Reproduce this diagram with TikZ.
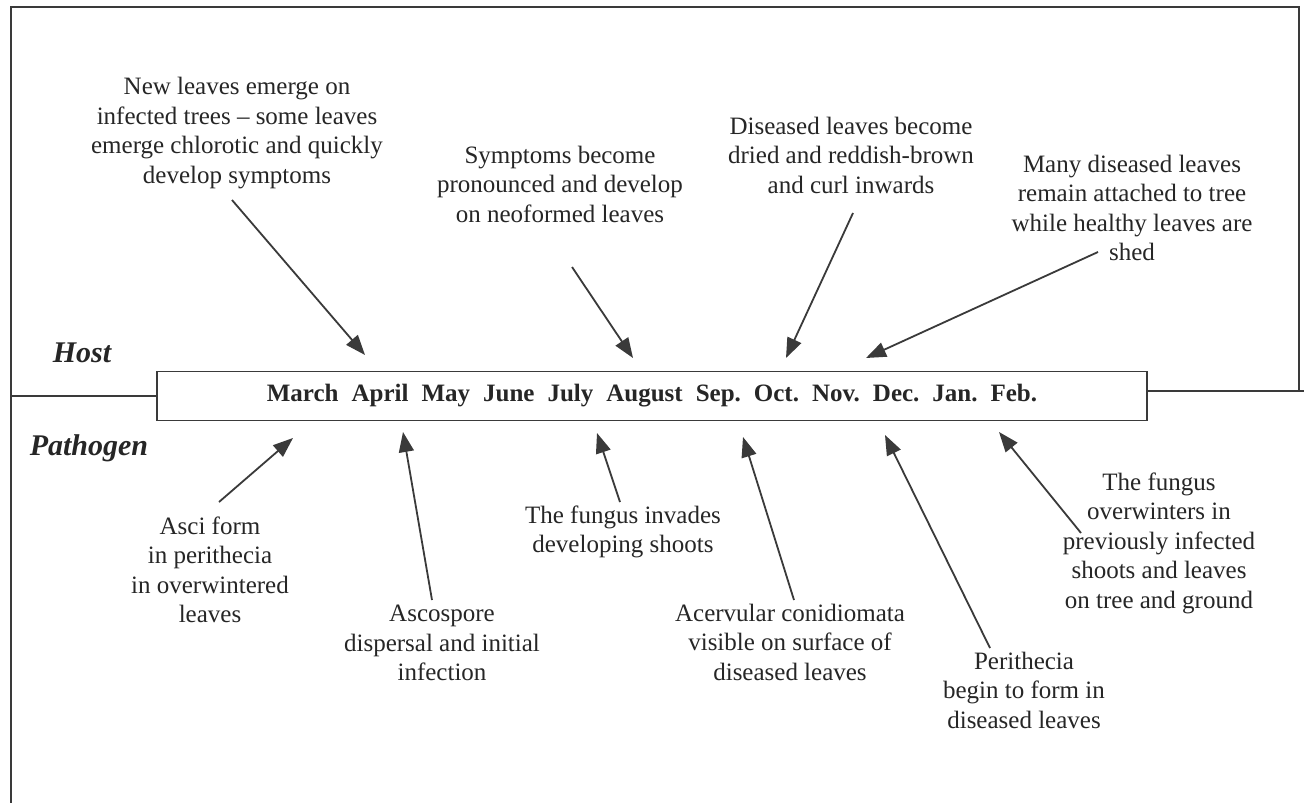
\documentclass[tikz,border=0pt]{standalone}
\usepackage{fontspec}
\setmainfont{Liberation Serif}
\usetikzlibrary{arrows.meta}
\definecolor{ink}{HTML}{262626}
\definecolor{linec}{HTML}{3A3A3A}
\tikzset{
  lbl/.style={align=center, inner sep=0pt, text=ink, font=\fontsize{25}{29.5}\selectfont},
  arr/.style={draw=linec, line width=1.8pt, -{Triangle[length=20pt,width=15pt]}},
  framel/.style={draw=linec, line width=1.6pt},
  side/.style={inner sep=0pt, text=ink, font=\fontsize{30}{34}\selectfont\bfseries\itshape},
  monthbox/.style={draw=linec, line width=1.6pt, minimum width=990pt, minimum height=49pt, inner sep=0pt, text=ink, font=\fontsize{25}{29.5}\selectfont\bfseries}
}
\newcommand{\mgap}{\hspace{13pt}}
\begin{document}
\begin{tikzpicture}[x=1pt,y=-1pt]
\useasboundingbox[fill=white] (0,0) rectangle (1304,803);
% frame
\coordinate (fbl) at (11,803);
\coordinate (ftl) at (11,7);
\coordinate (ftr) at (1299,7);
\coordinate (fbr) at (1299,391);
\coordinate (rl) at (1304,391);
\coordinate (ll) at (11,396);
\draw[framel] (fbl) -- (ftl) -- (ftr) -- (fbr);
% month box
\node[monthbox] (box) at (652,396) {March\mgap April\mgap May\mgap June\mgap July\mgap August\mgap Sep.\mgap Oct.\mgap Nov.\mgap Dec.\mgap Jan.\mgap Feb.};
\draw[framel] (ll) -- (box.west);
\draw[framel] (box.east |- rl) -- (rl);
% side labels
\node[side] (host) at (82,353) {Host};
\node[side] (path) at (89,448) {Pathogen};
% host texts
\node[lbl] (a) at (237,133) {New leaves emerge on\\infected trees -- some leaves\\emerge chlorotic and quickly\\develop symptoms};
\node[lbl] (b) at (560,184) {Symptoms become\\pronounced and develop\\on neoformed leaves};
\node[lbl] (c) at (851,155) {Diseased leaves become\\dried and reddish-brown\\and curl inwards};
\node[lbl] (d) at (1132,208) {Many diseased leaves\\remain attached to tree\\while healthy leaves are\\shed};
% pathogen texts
\node[lbl] (e) at (210,570) {Asci form\\in perithecia\\in overwintered\\leaves};
\node[lbl] (f) at (442,643) {Ascospore\\dispersal and initial\\infection};
\node[lbl] (g) at (623,532) {The fungus invades\\developing shoots};
\node[lbl] (h) at (790,642) {Acervular conidiomata\\visible on surface of\\diseased leaves};
\node[lbl] (i) at (1024,690) {Perithecia\\begin to form in\\diseased leaves};
\node[lbl] (j) at (1159,543) {The fungus\\overwinters in\\previously infected\\shoots and leaves\\on tree and ground};
% arrow coordinates
\coordinate (a1) at (232,200); \coordinate (a2) at (365,355);
\coordinate (b1) at (572,267); \coordinate (b2) at (633,358);
\coordinate (c1) at (853,213); \coordinate (c2) at (786,358);
\coordinate (d1) at (1098,252); \coordinate (d2) at (866,358);
\coordinate (e1) at (219,502); \coordinate (e2) at (293,438);
\coordinate (f1) at (432,600); \coordinate (f2) at (403,432);
\coordinate (g1) at (620,502); \coordinate (g2) at (597,433);
\coordinate (h1) at (794,600); \coordinate (h2) at (743,437);
\coordinate (i1) at (990,648); \coordinate (i2) at (885,435);
\coordinate (j1) at (1081,533); \coordinate (j2) at (999,432);
\foreach \n in {a,b,c,d,e,f,g,h,i,j}{\draw[arr] (\n1) -- (\n2);}
\end{tikzpicture}
\end{document}
